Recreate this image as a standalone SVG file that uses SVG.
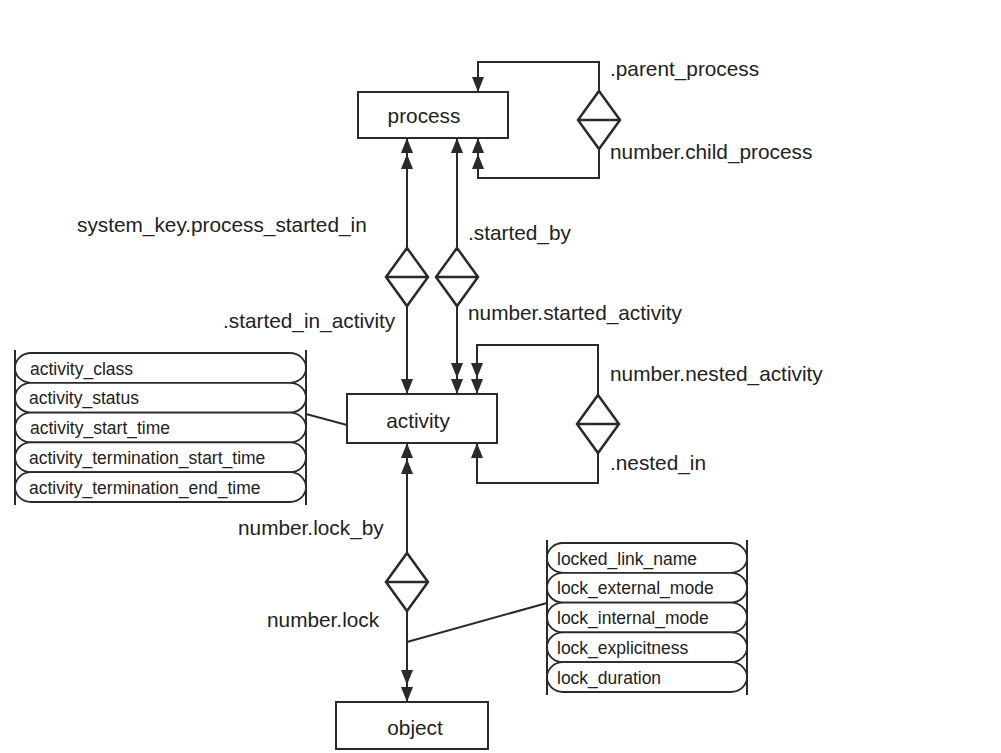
<svg xmlns="http://www.w3.org/2000/svg" xmlns:xlink="http://www.w3.org/1999/xlink" width="1001" height="753" viewBox="0 0 1001 753">
<style>
.box{fill:#fff;stroke:#2a2a2a;stroke-width:2}
.ln{fill:none;stroke:#2a2a2a;stroke-width:2}
.dm{fill:#fff;stroke:#2a2a2a;stroke-width:2.5}
.ah{fill:#2a2a2a}
.lbl{font-family:"Liberation Sans",Arial,sans-serif;font-size:20.8px;fill:#222}
.att{font-family:"Liberation Sans",Arial,sans-serif;font-size:17.5px;fill:#222}
.pill{fill:#fff;stroke:#2a2a2a;stroke-width:1.8}
.bar{stroke:#2a2a2a;stroke-width:2}
</style>
<defs>
<path id="ah" class="ah" d="M0,0 L-6,-15 L6,-15 Z"/>
<path id="dia" class="dm" d="M0,-29 L21,0 L0,29 L-21,0 Z M-21,0 L21,0"/>
</defs>
<rect width="1001" height="753" fill="#fff"/>

<g id="connectors">
  <line class="ln" x1="407" y1="138" x2="407" y2="394"/>
  <line class="ln" x1="457" y1="138" x2="457" y2="394"/>
  <path class="ln" d="M478,92 L478,62 L599,62 L599,178 L478,178 L478,138"/>
  <path class="ln" d="M477,394 L477,345 L598,345 L598,483 L477,483 L477,443"/>
  <line class="ln" x1="407" y1="443" x2="407" y2="702"/>
  <line class="ln" x1="306" y1="414" x2="347" y2="425"/>
  <line class="ln" x1="547" y1="603" x2="407" y2="642"/>

  <use href="#dia" x="407" y="277"/>
  <use href="#dia" x="457" y="277"/>
  <use href="#dia" x="599" y="120"/>
  <use href="#dia" x="598" y="424"/>
  <use href="#dia" x="407" y="582"/>

  <use href="#ah" transform="translate(407,138) rotate(180)"/>
  <use href="#ah" transform="translate(407,154) rotate(180)"/>
  <use href="#ah" transform="translate(457,138) rotate(180)"/>
  <use href="#ah" transform="translate(478,138) rotate(180)"/>
  <use href="#ah" transform="translate(478,154) rotate(180)"/>
  <use href="#ah" transform="translate(478,92)"/>
  <use href="#ah" transform="translate(407,394)"/>
  <use href="#ah" transform="translate(457,394)"/>
  <use href="#ah" transform="translate(457,378)"/>
  <use href="#ah" transform="translate(477,394)"/>
  <use href="#ah" transform="translate(477,378)"/>
  <use href="#ah" transform="translate(407,443) rotate(180)"/>
  <use href="#ah" transform="translate(407,459) rotate(180)"/>
  <use href="#ah" transform="translate(477,443) rotate(180)"/>
  <use href="#ah" transform="translate(407,702)"/>
  <use href="#ah" transform="translate(407,685)"/>

  <text class="lbl" x="610" y="76">.parent_process</text>
  <text class="lbl" x="610" y="159">number.child_process</text>
  <text class="lbl" x="77" y="232">system_key.process_started_in</text>
  <text class="lbl" x="223" y="328">.started_in_activity</text>
  <text class="lbl" x="468" y="240">.started_by</text>
  <text class="lbl" x="468" y="320">number.started_activity</text>
  <text class="lbl" x="610" y="381">number.nested_activity</text>
  <text class="lbl" x="610" y="470">.nested_in</text>
  <text class="lbl" x="238" y="535">number.lock_by</text>
  <text class="lbl" x="267" y="627">number.lock</text>
</g>

<g id="process">
  <rect class="box" x="358" y="92" width="150" height="46"/>
  <text class="lbl" x="424" y="123" text-anchor="middle">process</text>
</g>

<g id="activity">
  <rect class="box" x="347" y="394" width="150" height="49"/>
  <text class="lbl" x="418" y="428" text-anchor="middle">activity</text>
</g>

<g id="object">
  <rect class="box" x="336" y="702" width="152" height="47"/>
  <text class="lbl" x="415" y="735" text-anchor="middle">object</text>
</g>

<g id="activity_attributes">
  <rect class="pill" x="15" y="353" width="291" height="29.8" rx="16" ry="14.9"/>
  <rect class="pill" x="15" y="382.8" width="291" height="29.8" rx="16" ry="14.9"/>
  <rect class="pill" x="15" y="412.6" width="291" height="29.8" rx="16" ry="14.9"/>
  <rect class="pill" x="15" y="442.4" width="291" height="29.8" rx="16" ry="14.9"/>
  <rect class="pill" x="15" y="472.2" width="291" height="29.8" rx="16" ry="14.9"/>
  <line class="bar" x1="15" y1="350" x2="15" y2="505"/>
  <line class="bar" x1="306" y1="350" x2="306" y2="505"/>
  <text class="att" x="30" y="375">activity_class</text>
  <text class="att" x="29" y="404">activity_status</text>
  <text class="att" x="30" y="434">activity_start_time</text>
  <text class="att" x="29" y="464">activity_termination_start_time</text>
  <text class="att" x="29" y="494">activity_termination_end_time</text>
</g>

<g id="lock_attributes">
  <rect class="pill" x="547" y="543" width="200" height="29.8" rx="16" ry="14.9"/>
  <rect class="pill" x="547" y="572.8" width="200" height="29.8" rx="16" ry="14.9"/>
  <rect class="pill" x="547" y="602.6" width="200" height="29.8" rx="16" ry="14.9"/>
  <rect class="pill" x="547" y="632.4" width="200" height="29.8" rx="16" ry="14.9"/>
  <rect class="pill" x="547" y="662.2" width="200" height="29.8" rx="16" ry="14.9"/>
  <line class="bar" x1="547" y1="540" x2="547" y2="695"/>
  <line class="bar" x1="747" y1="540" x2="747" y2="695"/>
  <text class="att" x="557" y="565">locked_link_name</text>
  <text class="att" x="557" y="594">lock_external_mode</text>
  <text class="att" x="557" y="624">lock_internal_mode</text>
  <text class="att" x="557" y="654">lock_explicitness</text>
  <text class="att" x="557" y="684">lock_duration</text>
</g>
</svg>
